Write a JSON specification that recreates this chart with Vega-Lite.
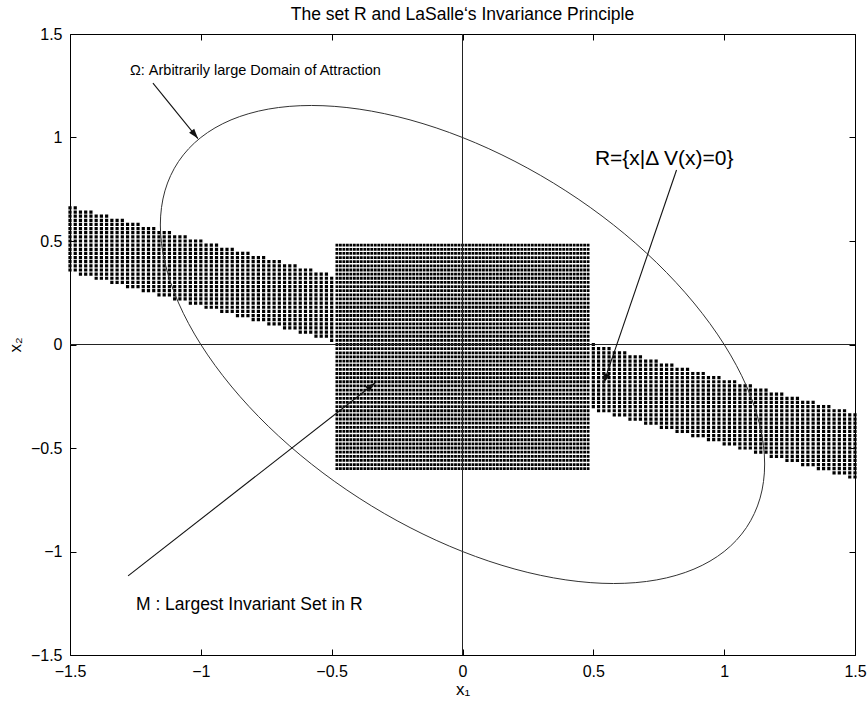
{
  "$schema": "https://vega.github.io/schema/vega-lite/v6.json",
  "width": 785,
  "height": 621,
  "autosize": "none",
  "padding": {"left": 70, "top": 34, "right": 12, "bottom": 48},
  "background": "white",
  "title": {"text": "The set R and LaSalle‘s Invariance Principle", "font": "Liberation Sans", "fontSize": 17.5, "fontWeight": "normal", "color": "black", "offset": 3},
  "datasets": {
    "band": [
      {"x": -1.5, "t": 0.66, "b": 0.34}, {"x": -1.48, "t": 0.66, "b": 0.34},
      {"x": -1.46, "t": 0.64, "b": 0.32}, {"x": -1.44, "t": 0.64, "b": 0.32}, {"x": -1.42, "t": 0.64, "b": 0.32},
      {"x": -1.4, "t": 0.62, "b": 0.3}, {"x": -1.38, "t": 0.62, "b": 0.3}, {"x": -1.36, "t": 0.62, "b": 0.3},
      {"x": -1.34, "t": 0.6, "b": 0.28}, {"x": -1.32, "t": 0.6, "b": 0.28}, {"x": -1.3, "t": 0.6, "b": 0.28},
      {"x": -1.28, "t": 0.58, "b": 0.26}, {"x": -1.26, "t": 0.58, "b": 0.26}, {"x": -1.24, "t": 0.58, "b": 0.26},
      {"x": -1.22, "t": 0.56, "b": 0.24}, {"x": -1.2, "t": 0.56, "b": 0.24}, {"x": -1.18, "t": 0.56, "b": 0.24},
      {"x": -1.16, "t": 0.54, "b": 0.22}, {"x": -1.14, "t": 0.54, "b": 0.22}, {"x": -1.12, "t": 0.54, "b": 0.22},
      {"x": -1.1, "t": 0.52, "b": 0.2}, {"x": -1.08, "t": 0.52, "b": 0.2}, {"x": -1.06, "t": 0.52, "b": 0.2},
      {"x": -1.04, "t": 0.5, "b": 0.18}, {"x": -1.02, "t": 0.5, "b": 0.18}, {"x": -1.0, "t": 0.5, "b": 0.18},
      {"x": -0.98, "t": 0.48, "b": 0.16}, {"x": -0.96, "t": 0.48, "b": 0.16}, {"x": -0.94, "t": 0.48, "b": 0.16},
      {"x": -0.92, "t": 0.46, "b": 0.14}, {"x": -0.9, "t": 0.46, "b": 0.14}, {"x": -0.88, "t": 0.46, "b": 0.14},
      {"x": -0.86, "t": 0.44, "b": 0.12}, {"x": -0.84, "t": 0.44, "b": 0.12}, {"x": -0.82, "t": 0.44, "b": 0.12},
      {"x": -0.8, "t": 0.42, "b": 0.1}, {"x": -0.78, "t": 0.42, "b": 0.1}, {"x": -0.76, "t": 0.42, "b": 0.1},
      {"x": -0.74, "t": 0.4, "b": 0.08}, {"x": -0.72, "t": 0.4, "b": 0.08}, {"x": -0.7, "t": 0.4, "b": 0.08},
      {"x": -0.68, "t": 0.38, "b": 0.06}, {"x": -0.66, "t": 0.38, "b": 0.06}, {"x": -0.64, "t": 0.38, "b": 0.06},
      {"x": -0.62, "t": 0.36, "b": 0.04}, {"x": -0.6, "t": 0.36, "b": 0.04}, {"x": -0.58, "t": 0.36, "b": 0.04},
      {"x": -0.56, "t": 0.34, "b": 0.02}, {"x": -0.54, "t": 0.34, "b": 0.02}, {"x": -0.52, "t": 0.34, "b": 0.02},
      {"x": -0.5, "t": 0.32, "b": 0.0},
      {"x": 0.5, "t": 0.0, "b": -0.32},
      {"x": 0.52, "t": -0.02, "b": -0.34}, {"x": 0.54, "t": -0.02, "b": -0.34}, {"x": 0.56, "t": -0.02, "b": -0.34},
      {"x": 0.58, "t": -0.04, "b": -0.36}, {"x": 0.6, "t": -0.04, "b": -0.36}, {"x": 0.62, "t": -0.04, "b": -0.36},
      {"x": 0.64, "t": -0.06, "b": -0.38}, {"x": 0.66, "t": -0.06, "b": -0.38}, {"x": 0.68, "t": -0.06, "b": -0.38},
      {"x": 0.7, "t": -0.08, "b": -0.4}, {"x": 0.72, "t": -0.08, "b": -0.4}, {"x": 0.74, "t": -0.08, "b": -0.4},
      {"x": 0.76, "t": -0.1, "b": -0.42}, {"x": 0.78, "t": -0.1, "b": -0.42}, {"x": 0.8, "t": -0.1, "b": -0.42},
      {"x": 0.82, "t": -0.12, "b": -0.44}, {"x": 0.84, "t": -0.12, "b": -0.44}, {"x": 0.86, "t": -0.12, "b": -0.44},
      {"x": 0.88, "t": -0.14, "b": -0.46}, {"x": 0.9, "t": -0.14, "b": -0.46}, {"x": 0.92, "t": -0.14, "b": -0.46},
      {"x": 0.94, "t": -0.16, "b": -0.48}, {"x": 0.96, "t": -0.16, "b": -0.48}, {"x": 0.98, "t": -0.16, "b": -0.48},
      {"x": 1.0, "t": -0.18, "b": -0.5}, {"x": 1.02, "t": -0.18, "b": -0.5}, {"x": 1.04, "t": -0.18, "b": -0.5},
      {"x": 1.06, "t": -0.2, "b": -0.52}, {"x": 1.08, "t": -0.2, "b": -0.52}, {"x": 1.1, "t": -0.2, "b": -0.52},
      {"x": 1.12, "t": -0.22, "b": -0.54}, {"x": 1.14, "t": -0.22, "b": -0.54}, {"x": 1.16, "t": -0.22, "b": -0.54},
      {"x": 1.18, "t": -0.24, "b": -0.56}, {"x": 1.2, "t": -0.24, "b": -0.56}, {"x": 1.22, "t": -0.24, "b": -0.56},
      {"x": 1.24, "t": -0.26, "b": -0.58}, {"x": 1.26, "t": -0.26, "b": -0.58}, {"x": 1.28, "t": -0.26, "b": -0.58},
      {"x": 1.3, "t": -0.28, "b": -0.6}, {"x": 1.32, "t": -0.28, "b": -0.6}, {"x": 1.34, "t": -0.28, "b": -0.6},
      {"x": 1.36, "t": -0.3, "b": -0.62}, {"x": 1.38, "t": -0.3, "b": -0.62}, {"x": 1.4, "t": -0.3, "b": -0.62},
      {"x": 1.42, "t": -0.32, "b": -0.64}, {"x": 1.44, "t": -0.32, "b": -0.64}, {"x": 1.46, "t": -0.32, "b": -0.64},
      {"x": 1.48, "t": -0.34, "b": -0.66}, {"x": 1.5, "t": -0.34, "b": -0.66}
    ],
    "square": [
      {"x": -0.48, "t": 0.48, "b": -0.62}, {"x": -0.4667, "t": 0.48, "b": -0.62}, {"x": -0.4533, "t": 0.48, "b": -0.62}, {"x": -0.44, "t": 0.48, "b": -0.62},
      {"x": -0.4267, "t": 0.48, "b": -0.62}, {"x": -0.4133, "t": 0.48, "b": -0.62}, {"x": -0.4, "t": 0.48, "b": -0.62}, {"x": -0.3867, "t": 0.48, "b": -0.62},
      {"x": -0.3733, "t": 0.48, "b": -0.62}, {"x": -0.36, "t": 0.48, "b": -0.62}, {"x": -0.3467, "t": 0.48, "b": -0.62}, {"x": -0.3333, "t": 0.48, "b": -0.62},
      {"x": -0.32, "t": 0.48, "b": -0.62}, {"x": -0.3067, "t": 0.48, "b": -0.62}, {"x": -0.2933, "t": 0.48, "b": -0.62}, {"x": -0.28, "t": 0.48, "b": -0.62},
      {"x": -0.2667, "t": 0.48, "b": -0.62}, {"x": -0.2533, "t": 0.48, "b": -0.62}, {"x": -0.24, "t": 0.48, "b": -0.62}, {"x": -0.2267, "t": 0.48, "b": -0.62},
      {"x": -0.2133, "t": 0.48, "b": -0.62}, {"x": -0.2, "t": 0.48, "b": -0.62}, {"x": -0.1867, "t": 0.48, "b": -0.62}, {"x": -0.1733, "t": 0.48, "b": -0.62},
      {"x": -0.16, "t": 0.48, "b": -0.62}, {"x": -0.1467, "t": 0.48, "b": -0.62}, {"x": -0.1333, "t": 0.48, "b": -0.62}, {"x": -0.12, "t": 0.48, "b": -0.62},
      {"x": -0.1067, "t": 0.48, "b": -0.62}, {"x": -0.0933, "t": 0.48, "b": -0.62}, {"x": -0.08, "t": 0.48, "b": -0.62}, {"x": -0.0667, "t": 0.48, "b": -0.62},
      {"x": -0.0533, "t": 0.48, "b": -0.62}, {"x": -0.04, "t": 0.48, "b": -0.62}, {"x": -0.0267, "t": 0.48, "b": -0.62}, {"x": -0.0133, "t": 0.48, "b": -0.62},
      {"x": 0.0, "t": 0.48, "b": -0.62},
      {"x": 0.0133, "t": 0.48, "b": -0.62}, {"x": 0.0267, "t": 0.48, "b": -0.62}, {"x": 0.04, "t": 0.48, "b": -0.62}, {"x": 0.0533, "t": 0.48, "b": -0.62},
      {"x": 0.0667, "t": 0.48, "b": -0.62}, {"x": 0.08, "t": 0.48, "b": -0.62}, {"x": 0.0933, "t": 0.48, "b": -0.62}, {"x": 0.1067, "t": 0.48, "b": -0.62},
      {"x": 0.12, "t": 0.48, "b": -0.62}, {"x": 0.1333, "t": 0.48, "b": -0.62}, {"x": 0.1467, "t": 0.48, "b": -0.62}, {"x": 0.16, "t": 0.48, "b": -0.62},
      {"x": 0.1733, "t": 0.48, "b": -0.62}, {"x": 0.1867, "t": 0.48, "b": -0.62}, {"x": 0.2, "t": 0.48, "b": -0.62}, {"x": 0.2133, "t": 0.48, "b": -0.62},
      {"x": 0.2267, "t": 0.48, "b": -0.62}, {"x": 0.24, "t": 0.48, "b": -0.62}, {"x": 0.2533, "t": 0.48, "b": -0.62}, {"x": 0.2667, "t": 0.48, "b": -0.62},
      {"x": 0.28, "t": 0.48, "b": -0.62}, {"x": 0.2933, "t": 0.48, "b": -0.62}, {"x": 0.3067, "t": 0.48, "b": -0.62}, {"x": 0.32, "t": 0.48, "b": -0.62},
      {"x": 0.3333, "t": 0.48, "b": -0.62}, {"x": 0.3467, "t": 0.48, "b": -0.62}, {"x": 0.36, "t": 0.48, "b": -0.62}, {"x": 0.3733, "t": 0.48, "b": -0.62},
      {"x": 0.3867, "t": 0.48, "b": -0.62}, {"x": 0.4, "t": 0.48, "b": -0.62}, {"x": 0.4133, "t": 0.48, "b": -0.62}, {"x": 0.4267, "t": 0.48, "b": -0.62},
      {"x": 0.44, "t": 0.48, "b": -0.62}, {"x": 0.4533, "t": 0.48, "b": -0.62}, {"x": 0.4667, "t": 0.48, "b": -0.62}, {"x": 0.48, "t": 0.48, "b": -0.62}
    ],
    "ellipse": [
      {"t": 0, "x": 0.5774, "y": 0.5774}, {"t": 10, "x": 0.395, "y": 0.7422}, {"t": 20, "x": 0.2005, "y": 0.8845},
      {"t": 30, "x": 0.0, "y": 1.0}, {"t": 40, "x": -0.2005, "y": 1.0851}, {"t": 50, "x": -0.3949, "y": 1.1371},
      {"t": 60, "x": -0.5773, "y": 1.1547}, {"t": 70, "x": -0.7422, "y": 1.1372}, {"t": 80, "x": -0.8846, "y": 1.085},
      {"t": 90, "x": -1.0, "y": 1.0}, {"t": 100, "x": -1.085, "y": 0.8846}, {"t": 110, "x": -1.1372, "y": 0.7422},
      {"t": 120, "x": -1.1547, "y": 0.5773}, {"t": 130, "x": -1.1371, "y": 0.3949}, {"t": 140, "x": -1.0851, "y": 0.2005},
      {"t": 150, "x": -1.0, "y": 0.0}, {"t": 160, "x": -0.8845, "y": -0.2005}, {"t": 170, "x": -0.7422, "y": -0.395},
      {"t": 180, "x": -0.5774, "y": -0.5774}, {"t": 190, "x": -0.395, "y": -0.7422}, {"t": 200, "x": -0.2005, "y": -0.8845},
      {"t": 210, "x": 0.0, "y": -1.0}, {"t": 220, "x": 0.2005, "y": -1.0851}, {"t": 230, "x": 0.3949, "y": -1.1371},
      {"t": 240, "x": 0.5773, "y": -1.1547}, {"t": 250, "x": 0.7422, "y": -1.1372}, {"t": 260, "x": 0.8846, "y": -1.085},
      {"t": 270, "x": 1.0, "y": -1.0}, {"t": 280, "x": 1.085, "y": -0.8846}, {"t": 290, "x": 1.1372, "y": -0.7422},
      {"t": 300, "x": 1.1547, "y": -0.5773}, {"t": 310, "x": 1.1371, "y": -0.3949}, {"t": 320, "x": 1.0851, "y": -0.2005},
      {"t": 330, "x": 1.0, "y": 0.0}, {"t": 340, "x": 0.8845, "y": 0.2005}, {"t": 350, "x": 0.7422, "y": 0.395}
    ],
    "arrows": [
      {"id": "omega", "x": -1.183, "y": 1.263, "x2": -1.011, "y2": 0.995},
      {"id": "R", "x": 0.818, "y": 0.843, "x2": 0.539, "y2": -0.188},
      {"id": "M", "x": -1.278, "y": -1.118, "x2": -0.334, "y2": -0.186}
    ],
    "labels": [
      {"id": "omega", "x": -1.271, "y": 1.302, "label": "Ω: Arbitrarily large Domain of Attraction"},
      {"id": "R", "x": 0.506, "y": 0.867, "label": "R={x|Δ V(x)=0}"},
      {"id": "M", "x": -1.248, "y": -1.283, "label": "M : Largest Invariant Set in R"}
    ]
  },
  "layer": [
    {
      "data": {"name": "band"},
      "mark": {"type": "rule", "strokeWidth": 3.2, "strokeDash": [0.01, 4.13], "strokeCap": "square", "color": "#000"},
      "encoding": {
        "x": {"field": "x", "type": "quantitative", "scale": {"domain": [-1.5, 1.5], "nice": false, "zero": false},
              "axis": {"orient": "bottom", "values": [-1.5, -1, -0.5, 0, 0.5, 1, 1.5], "format": "~g", "title": "x₁", "titlePadding": 2, "titleFontSize": 17}},
        "y": {"field": "t", "type": "quantitative", "scale": {"domain": [-1.5, 1.5], "nice": false, "zero": false},
              "axis": {"orient": "left", "values": [-1.5, -1, -0.5, 0, 0.5, 1, 1.5], "format": "~g", "title": "x₂", "titlePadding": 6, "titleFontSize": 17}},
        "y2": {"field": "b"}
      }
    },
    {
      "data": {"name": "square"},
      "mark": {"type": "rule", "strokeWidth": 2.8, "strokeDash": [0.01, 4.13], "strokeCap": "square", "color": "#000"},
      "encoding": {
        "x": {"field": "x", "type": "quantitative", "axis": null},
        "y": {"field": "t", "type": "quantitative", "axis": null},
        "y2": {"field": "b"}
      }
    },
    {
      "data": {"values": [{}]},
      "mark": {"type": "rule", "color": "#222", "strokeWidth": 1},
      "encoding": {
        "x": {"datum": 0, "type": "quantitative",
              "axis": {"orient": "top", "values": [-1.5, -1, -0.5, 0, 0.5, 1, 1.5], "labels": false, "title": null}}
      }
    },
    {
      "data": {"values": [{}]},
      "mark": {"type": "rule", "color": "#222", "strokeWidth": 1},
      "encoding": {
        "y": {"datum": 0, "type": "quantitative",
              "axis": {"orient": "right", "values": [-1.5, -1, -0.5, 0, 0.5, 1, 1.5], "labels": false, "title": null}}
      }
    },
    {
      "data": {"name": "ellipse"},
      "mark": {"type": "line", "interpolate": "cardinal-closed", "color": "#333", "strokeWidth": 1},
      "encoding": {
        "x": {"field": "x", "type": "quantitative", "axis": null},
        "y": {"field": "y", "type": "quantitative", "axis": null},
        "order": {"field": "t", "type": "quantitative"}
      }
    },
    {
      "data": {"name": "arrows"},
      "mark": {"type": "rule", "color": "#111", "strokeWidth": 1.1},
      "encoding": {
        "x": {"field": "x", "type": "quantitative", "axis": null},
        "y": {"field": "y", "type": "quantitative", "axis": null},
        "x2": {"field": "x2"},
        "y2": {"field": "y2"}
      }
    },
    {
      "data": {"name": "arrows"},
      "transform": [{"filter": "datum.id === 'omega'"}],
      "mark": {"type": "point", "shape": "M0,0L-0.33,1L0.33,1Z", "filled": true, "color": "#111", "opacity": 1, "size": 400, "angle": 141},
      "encoding": {
        "x": {"field": "x2", "type": "quantitative", "axis": null},
        "y": {"field": "y2", "type": "quantitative", "axis": null}
      }
    },
    {
      "data": {"name": "arrows"},
      "transform": [{"filter": "datum.id === 'R'"}],
      "mark": {"type": "point", "shape": "M0,0L-0.33,1L0.33,1Z", "filled": true, "color": "#111", "opacity": 1, "size": 400, "angle": 199},
      "encoding": {
        "x": {"field": "x2", "type": "quantitative", "axis": null},
        "y": {"field": "y2", "type": "quantitative", "axis": null}
      }
    },
    {
      "data": {"name": "arrows"},
      "transform": [{"filter": "datum.id === 'M'"}],
      "mark": {"type": "point", "shape": "M0,0L-0.33,1L0.33,1Z", "filled": true, "color": "#111", "opacity": 1, "size": 400, "angle": 52},
      "encoding": {
        "x": {"field": "x2", "type": "quantitative", "axis": null},
        "y": {"field": "y2", "type": "quantitative", "axis": null}
      }
    },
    {
      "data": {"name": "labels"},
      "transform": [{"filter": "datum.id === 'omega'"}],
      "mark": {"type": "text", "align": "left", "baseline": "alphabetic", "font": "Liberation Sans", "fontSize": 14.5, "color": "black"},
      "encoding": {
        "x": {"field": "x", "type": "quantitative", "axis": null},
        "y": {"field": "y", "type": "quantitative", "axis": null},
        "text": {"field": "label"}
      }
    },
    {
      "data": {"name": "labels"},
      "transform": [{"filter": "datum.id === 'M'"}],
      "mark": {"type": "text", "align": "left", "baseline": "alphabetic", "font": "Liberation Sans", "fontSize": 17.5, "color": "black"},
      "encoding": {
        "x": {"field": "x", "type": "quantitative", "axis": null},
        "y": {"field": "y", "type": "quantitative", "axis": null},
        "text": {"field": "label"}
      }
    },
    {
      "data": {"name": "labels"},
      "transform": [{"filter": "datum.id === 'R'"}],
      "mark": {"type": "text", "align": "left", "baseline": "alphabetic", "font": "Liberation Sans", "fontSize": 21, "color": "black"},
      "encoding": {
        "x": {"field": "x", "type": "quantitative", "axis": null},
        "y": {"field": "y", "type": "quantitative", "axis": null},
        "text": {"field": "label"}
      }
    }
  ],
  "resolve": {"axis": {"x": "independent", "y": "independent"}},
  "config": {
    "font": "Liberation Sans",
    "view": {"stroke": null},
    "axis": {
      "domainColor": "black", "domainWidth": 1, "tickColor": "black", "tickWidth": 1, "tickSize": -6,
      "labelColor": "black", "labelFont": "Liberation Sans", "labelFontSize": 16, "labelPadding": 14,
      "labelFlush": false, "labelOverlap": false, "grid": false,
      "titleFont": "Liberation Sans", "titleFontSize": 16, "titleFontWeight": "normal", "titleColor": "black"
    }
  }
}
